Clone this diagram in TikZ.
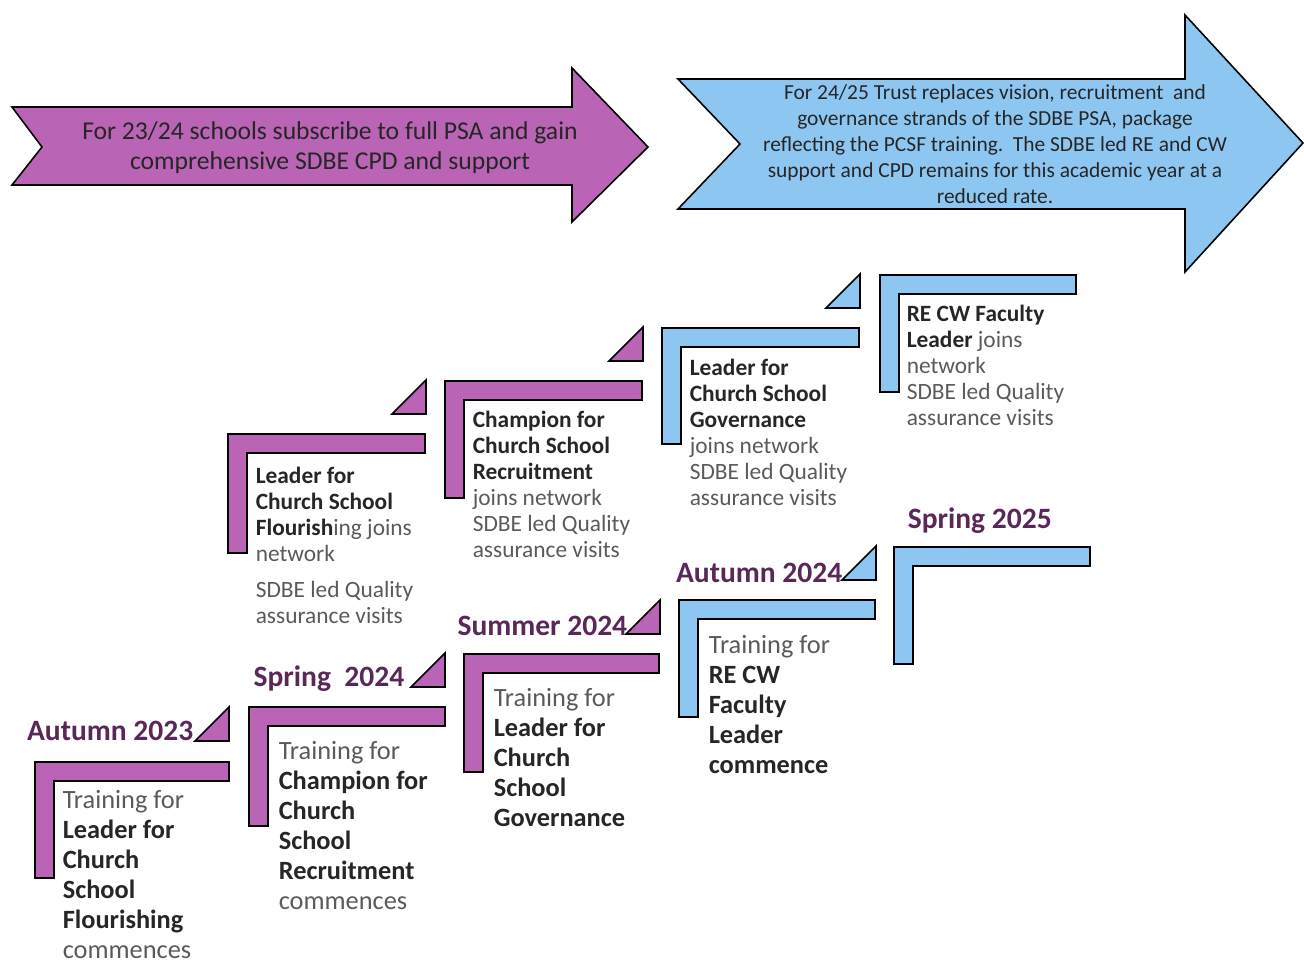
\documentclass[tikz,border=0pt]{standalone}
\usepackage{fontspec}
\setmainfont{Carlito}
\usepackage{tikz}

\definecolor{plum}{HTML}{B964B4}
\definecolor{sky}{HTML}{8EC6F2}
\definecolor{seasonc}{HTML}{5A2858}
\definecolor{greytext}{HTML}{5A5A5A}
\definecolor{darktext}{HTML}{262626}

\newcommand{\hl}[1]{\textcolor{darktext}{\textbf{#1}}}
\newcommand{\elbow}[5]{\draw[fill=#1] (#2,#3) -- (#4,#3) -- (#4,#3+19) -- (#2+19,#3+19) -- (#2+19,#5) -- (#2,#5) -- cycle;}
\newcommand{\flag}[3]{\draw[fill=#1] (#2-34,#3) -- (#2,#3-34) -- (#2,#3) -- cycle;}

\begin{document}
\begin{tikzpicture}[x=0.02cm,y=-0.02cm,line width=0.9pt,
	season/.style={font=\fontsize{16.8}{19}\selectfont\bfseries,text=seasonc,inner sep=0},
	big text/.style={font=\fontsize{15}{17}\selectfont,align=left,anchor=base west,inner sep=0,text=greytext},
	small text/.style={font=\fontsize{13.3}{14.7}\selectfont,align=left,anchor=base west,inner sep=0,text=greytext},
	banner/.style={align=center,text=darktext,inner sep=0}]
	\useasboundingbox (0,0) rectangle (1304,963);

	\draw[fill=plum] (12,107) -- (572,107) -- (572,68) -- (648,147) -- (572,222) -- (572,185) -- (12,185) -- (42,147) -- cycle;
	\draw[fill=sky] (678,79) -- (1185,79) -- (1185,15) -- (1303,143) -- (1185,272) -- (1185,209) -- (678,209) -- (740,144) -- cycle;
	\node (psa) [banner, font=\fontsize{14.6}{17}\selectfont] at (330,148) {For 23/24 schools subscribe to full PSA and gain\\comprehensive SDBE CPD and support};
	\node (trust) [banner, font=\fontsize{12.2}{14.7}\selectfont] at (995,144) {For 24/25 Trust replaces vision, recruitment\ \ and\\governance strands of the SDBE PSA, package\\reflecting the PCSF training.\ \ The SDBE led RE and CW\\support and CPD remains for this academic year at a\\reduced rate.};

	\elbow{plum}{35}{762}{229}{878}
	\flag{plum}{229}{741}
	\elbow{plum}{249}{707}{445}{826}
	\flag{plum}{445}{687}
	\elbow{plum}{464}{654}{659}{772}
	\flag{plum}{660}{634}
	\elbow{sky}{679}{600}{875}{717}
	\flag{sky}{876}{580}
	\elbow{sky}{894}{547}{1090}{664}

	\elbow{plum}{228}{434}{425}{553}
	\flag{plum}{426}{414}
	\elbow{plum}{445}{381}{642}{498}
	\flag{plum}{643}{361}
	\elbow{sky}{662}{328}{859}{444}
	\flag{sky}{860}{308}
	\elbow{sky}{880}{275}{1076}{392}

	\draw
		(194,740) node(s1) [season, anchor=base east] {Autumn 2023}
		(405,686) node(s2) [season, anchor=base east] {Spring\ \ 2024}
		(628,635) node(s3) [season, anchor=base east] {Summer 2024}
		(843,582) node(s4) [season, anchor=base east] {Autumn 2024}
		(907,528) node(s5) [season, anchor=base west] {Spring 2025};

	\draw
		(62,958)  node(t1) [big text] {Training for\\\hl{Leader for}\\\hl{Church}\\\hl{School}\\\hl{Flourishing}\\commences}
		(278,909) node(t2) [big text] {Training for\\\hl{Champion for}\\\hl{Church}\\\hl{School}\\\hl{Recruitment}\\commences}
		(493,826) node(t3) [big text] {Training for\\\hl{Leader for}\\\hl{Church}\\\hl{School}\\\hl{Governance}}
		(708,773) node(t4) [big text] {Training for\\\hl{RE CW}\\\hl{Faculty}\\\hl{Leader}\\\hl{commence}};

	\draw
		(255,623) node(n1) [small text] {\hl{Leader for}\\\hl{Church School}\\\hl{Flourish}ing joins\\network\\[5.7pt]SDBE led Quality\\assurance visits}
		(472,557) node(n2) [small text] {\hl{Champion for}\\\hl{Church School}\\\hl{Recruitment}\\joins network\\SDBE led Quality\\assurance visits}
		(689,505) node(n3) [small text] {\hl{Leader for}\\\hl{Church School}\\\hl{Governance}\\joins network\\SDBE led Quality\\assurance visits}
		(906,425) node(n4) [small text] {\hl{RE CW Faculty}\\\hl{Leader} joins\\network\\SDBE led Quality\\assurance visits};
\end{tikzpicture}
\end{document}
